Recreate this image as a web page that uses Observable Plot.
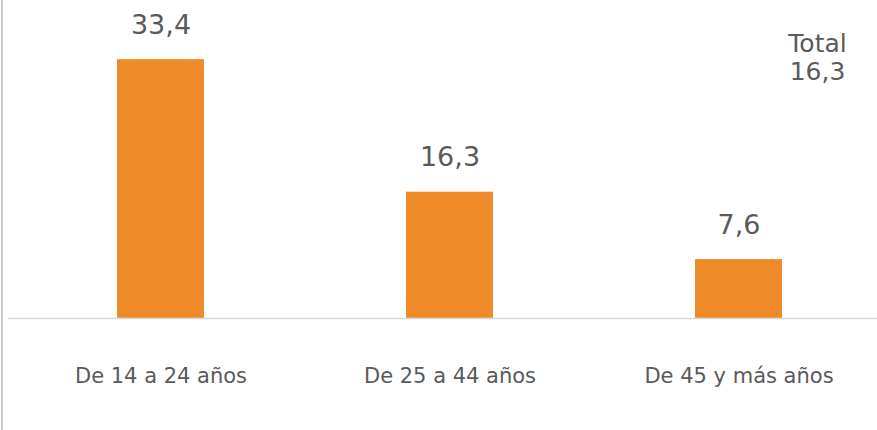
<!DOCTYPE html>
<html>
<head>
<meta charset="utf-8">
<script src="https://cdn.jsdelivr.net/npm/d3@7"></script>
<script src="https://cdn.jsdelivr.net/npm/@observablehq/plot@0.6"></script>
<style>
  body { margin: 0; background: white; }
  #wrap { position: relative; width: 877px; height: 430px; overflow: hidden; }
  #border { position: absolute; left: 1px; top: 0; width: 2px; height: 430px; background: #cbcbcb; }
</style>
</head>
<body>
<div id="wrap"><div id="border"></div></div>
<script>
const categories = ["De 14 a 24 años", "De 25 a 44 años", "De 45 y más años"];
const values = [33.4, 16.3, 7.6];
const valueLabels = ["33,4", "16,3", "7,6"];
const totalTitle = "Total";
const totalValue = "16,3";

const data = categories.map((c, i) => ({category: c, value: values[i], label: valueLabels[i]}));

const chart = Plot.plot({
  width: 877,
  height: 430,
  marginTop: 8,
  marginBottom: 112,
  marginLeft: 8,
  marginRight: 0,
  style: {fontFamily: "DejaVu Sans", color: "#5a5a5a", background: "transparent"},
  x: {domain: categories, range: [15, 884], paddingInner: 0.7, paddingOuter: 0.35, label: null},
  y: {domain: [0, 40], axis: null},
  marks: [
    Plot.barY(data, {x: "category", y: "value", fill: "#EF8A2A"}),
    Plot.ruleY([0], {stroke: "#d9d9d9", strokeWidth: 1.5}),
    Plot.text(data, {x: "category", y: "value", text: "label", lineAnchor: "bottom", dy: -26, fontSize: 27, fill: "#5a5a5a"}),
    Plot.axisX({tickSize: 0, tickPadding: 50, fontSize: 21, label: null, fill: "#5a5a5a"}),
    Plot.text([totalTitle + "\n" + totalValue], {text: d => d, frameAnchor: "top-right", dx: -60, dy: 24, textAnchor: "middle", lineAnchor: "top", lineHeight: 1.1, fontSize: 25, fill: "#5a5a5a"})
  ]
});
document.getElementById("wrap").appendChild(chart);
</script>
</body>
</html>
